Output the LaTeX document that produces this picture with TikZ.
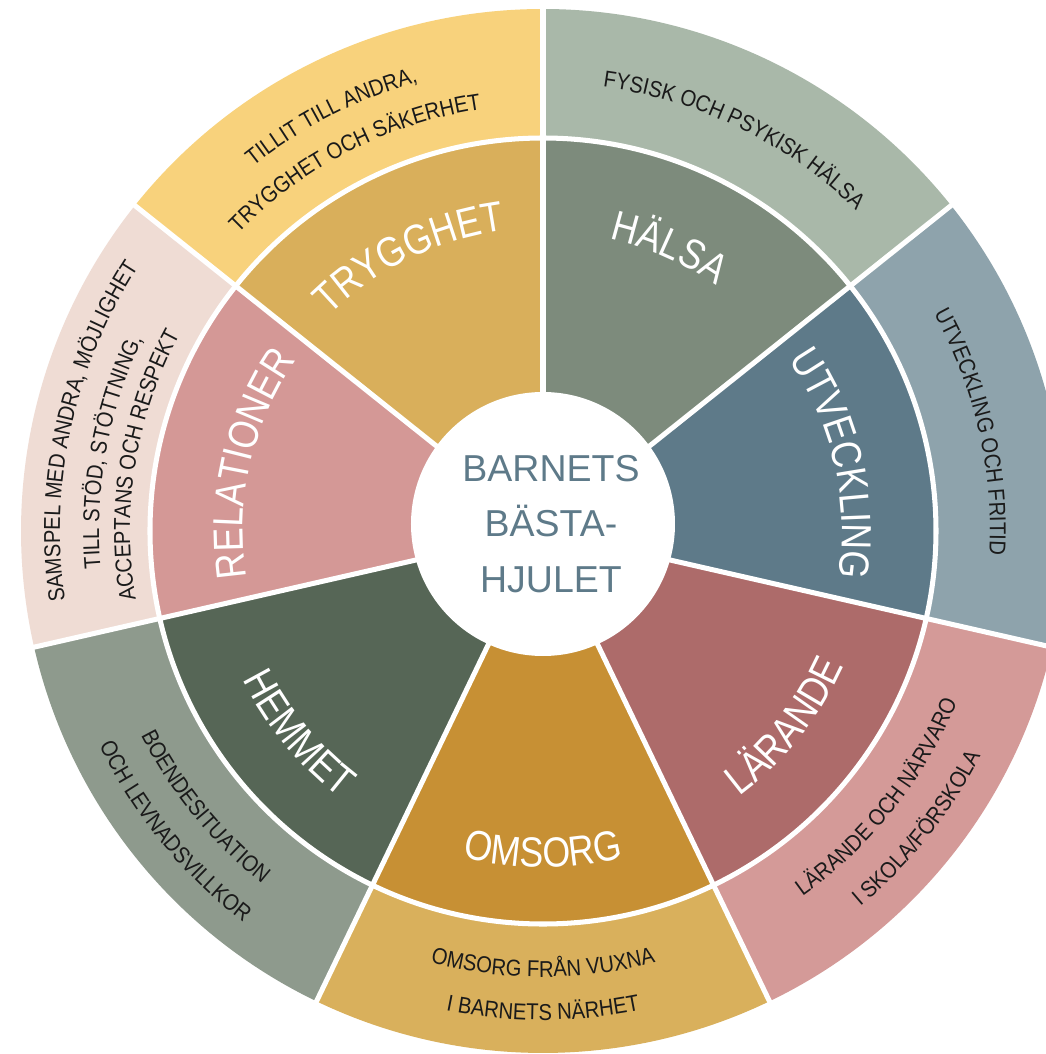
\documentclass[tikz,border=0pt]{standalone}
\usepackage{fontspec}
\setmainfont{Liberation Sans}
\newfontfamily\narrowfont{Liberation Sans}[FakeStretch=0.88]
\newfontfamily\labelfont{Liberation Sans}[FakeStretch=0.85]
\usetikzlibrary{decorations.text}
\definecolor{tryggO}{HTML}{F8D27C}
\definecolor{tryggI}{HTML}{D9AF5B}
\definecolor{halsaO}{HTML}{A9B8A9}
\definecolor{halsaI}{HTML}{7D8B7C}
\definecolor{utvO}{HTML}{8EA3AC}
\definecolor{utvI}{HTML}{5E7A89}
\definecolor{larO}{HTML}{D49A98}
\definecolor{larI}{HTML}{AD6B6A}
\definecolor{omsO}{HTML}{D9B05C}
\definecolor{omsI}{HTML}{C79034}
\definecolor{hemO}{HTML}{8E9A8D}
\definecolor{hemI}{HTML}{566656}
\definecolor{relO}{HTML}{EFDCD4}
\definecolor{relI}{HTML}{D49896}
\definecolor{centreblue}{HTML}{5E7A89}
\definecolor{inkc}{HTML}{1A1A1A}
\newcommand\ofont{\narrowfont\fontsize{19.6pt}{23pt}\selectfont}
\newcommand\lfont{\labelfont\fontsize{35.9pt}{40pt}\selectfont}
% clockwise arc text (upper half): #1 mid angle, #2 radius, #3 font, #4 colour, #5 text
\newcommand\cwtext[5]{%
  \path[decorate,decoration={text along path,text align=center,text color=#4,text={|#3|#5}}]
    ({#1+25}:#2) arc[start angle={#1+25}, end angle={#1-25}, radius=#2];}
% counter-clockwise arc text (lower half)
\newcommand\ccwtext[5]{%
  \path[decorate,decoration={text along path,text align=center,text color=#4,text={|#3|#5}}]
    ({#1-25}:#2) arc[start angle={#1-25}, end angle={#1+25}, radius=#2];}
\tikzset{sep/.style={white, line width=4.3pt}}
\begin{document}
\begin{tikzpicture}[x=0.03cm,y=0.03cm]
\useasboundingbox (-543,-523) rectangle (503,531);
\clip (-543,-523) rectangle (503,531);
\fill[white] (-543,-523) rectangle (503,531);
% sectors
\foreach \s/\ci/\co in {38.5714/halsaI/halsaO, 90/tryggI/tryggO, 141.4286/relI/relO, 192.8571/hemI/hemO, 244.2857/omsI/omsO, 295.7143/larI/larO, 347.1429/utvI/utvO}{
  \fill[\ci] (0,0) -- (\s:393) arc[start angle=\s, delta angle=51.4286, radius=393] -- cycle;
  \fill[\co] (\s:393) arc[start angle=\s, delta angle=51.4286, radius=393]
     -- ({\s+51.4286}:522) arc[start angle={\s+51.4286}, delta angle=-51.4286, radius=522] -- cycle;
}
% separators
\foreach \s in {38.5714, 90, 141.4286, 192.8571, 244.2857, 295.7143, 347.1429}{
  \draw[sep] (0,0) -- (\s:540);
}
\draw[sep] (0,0) circle[radius=393];
\fill[white] (0,7) circle[radius=132];
\node[name=centre, text=centreblue, align=center, font=\fontsize{32pt}{47.4pt}\selectfont] at (8,7) {BARNETS\\BÄSTA-\\HJULET};
% inner labels
\cwtext{116}{303}{\lfont}{white}{TRYGGHET}
\cwtext{66}{300}{\lfont}{white}{HÄLSA}
\cwtext{13}{299}{\lfont}{white}{UTVECKLING}
\cwtext{167}{300}{\lfont}{white}{RELATIONER}
\ccwtext{-38.8}{330}{\lfont}{white}{LÄRANDE}
\ccwtext{-90}{336}{\lfont}{white}{OMSORG}
\ccwtext{-140.4}{335}{\lfont}{white}{HEMMET}
% outer labels
\cwtext{117}{466}{\ofont}{inkc}{TILLIT TILL ANDRA,}
\cwtext{117}{426}{\ofont}{inkc}{TRYGGHET OCH SÄKERHET}
\cwtext{64}{448}{\ofont}{inkc}{FYSISK OCH PSYKISK HÄLSA}
\cwtext{13}{447}{\ofont}{inkc}{UTVECKLING OCH FRITID}
\cwtext{167.6}{483}{\ofont}{inkc}{SAMSPEL MED ANDRA, MÖJLIGHET}
\cwtext{169.6}{444}{\ofont}{inkc}{TILL STÖD, STÖTTNING,}
\cwtext{170.6}{413}{\ofont}{inkc}{ACCEPTANS OCH RESPEKT}
\ccwtext{-38.5}{448}{\ofont}{inkc}{LÄRANDE OCH NÄRVARO}
\ccwtext{-38.5}{492}{\ofont}{inkc}{I SKOLA/FÖRSKOLA}
\ccwtext{-90}{446}{\ofont}{inkc}{OMSORG FRÅN VUXNA}
\ccwtext{-90}{489}{\ofont}{inkc}{I BARNETS NÄRHET}
\ccwtext{-140.8}{451}{\ofont}{inkc}{BOENDESITUATION}
\ccwtext{-140.8}{493}{\ofont}{inkc}{OCH LEVNADSVILLKOR}
\end{tikzpicture}
\end{document}
